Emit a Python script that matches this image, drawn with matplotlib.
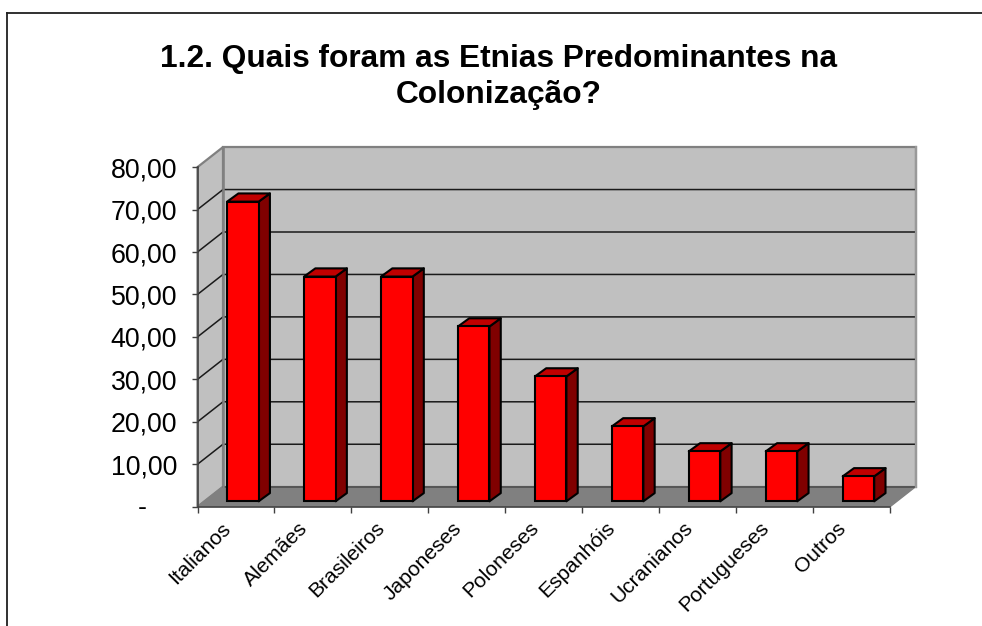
import matplotlib
matplotlib.use("Agg")
import matplotlib.pyplot as plt
from matplotlib.patches import Polygon
from matplotlib.lines import Line2D
from matplotlib.transforms import ScaledTranslation

plt.rcParams['font.family'] = ['Liberation Sans', 'DejaVu Sans']

title = "1.2. Quais foram as Etnias Predominantes na\nColonização?"
categories = ["Italianos", "Alemães", "Brasileiros", "Japoneses", "Poloneses",
              "Espanhóis", "Ucranianos", "Portugueses", "Outros"]
values = [70.59, 52.94, 52.94, 41.18, 29.41, 17.65, 11.76, 11.76, 5.88]
y_ticks = [0, 10, 20, 30, 40, 50, 60, 70, 80]
y_labels = ["-", "10,00", "20,00", "30,00", "40,00", "50,00", "60,00", "70,00", "80,00"]

W, H = 982, 626
fig = plt.figure(figsize=(W / 100, H / 100), dpi=100)
fig.patch.set_facecolor("white")

# pixel frame of the front plane plus depth
X0, Y0 = 197.5, 506.7
PX_CAT, PX_UNIT = 76.95, 4.245
DX_PX, DY_PX = 25.5, 20.0
n = len(categories)
dx = DX_PX / PX_CAT
dy = DY_PX / PX_UNIT
ax_w = PX_CAT * n + DX_PX
ax_h = PX_UNIT * 80 + DY_PX
ax = fig.add_axes([X0 / W, 1 - Y0 / H, ax_w / W, ax_h / H])
ax.set_xlim(-0.5, n - 0.5 + dx)
ax.set_ylim(0, 80 + dy)
ax.patch.set_alpha(0)
L, R = -0.5, n - 0.5

# walls and floor
wall = "#C0C0C0"
ax.add_patch(Polygon([(L + dx, dy), (R + dx, dy), (R + dx, 80 + dy), (L + dx, 80 + dy)],
                     fc=wall, ec="#808080", lw=1.6, zorder=1, clip_on=False))
ax.add_patch(Polygon([(L, 0), (L + dx, dy), (L + dx, 80 + dy), (L, 80)],
                     fc=wall, ec="#808080", lw=1.6, zorder=1, clip_on=False))
ax.add_patch(Polygon([(L, 0), (R, 0), (R + dx, dy), (L + dx, dy)],
                     fc="#808080", ec="#808080", lw=1.0, zorder=1, clip_on=False))

# gridlines
for t in y_ticks:
    if t == 0:
        ax.plot([L + dx, R + dx], [dy, dy], color="#555555", lw=1.4, zorder=2)
        continue
    if t == 80:
        continue
    ax.plot([L, L + dx, R + dx], [t, t + dy, t + dy], color="#1a1a1a", lw=1.1, zorder=2)
ax.plot([L + dx, L + dx], [dy, 80 + dy], color="#808080", lw=1.8, zorder=2)
ax.plot([R + dx, R + dx], [dy, 80 + dy], color="#999999", lw=1.6, zorder=2, clip_on=False)

# bars
frac = 0.27
bar_w = 31.5 / PX_CAT
d0x, d0y = frac * dx, frac * dy
bdx, bdy = 11.3 / PX_CAT, 8.2 / PX_UNIT
edge = dict(ec="black", lw=1.5, joinstyle="round")
centers = [i + d0x for i in range(n)]
ax.bar(centers, values, width=bar_w, bottom=d0y, color="#FF0000", edgecolor="black",
       linewidth=1.5, zorder=5)
for c, v in zip(centers, values):
    xl, xr = c - bar_w / 2, c + bar_w / 2
    yb, yt = d0y, d0y + v
    ax.add_patch(Polygon([(xr, yb), (xr + bdx, yb + bdy), (xr + bdx, yt + bdy), (xr, yt)],
                         fc="#800000", zorder=4, **edge))
    ax.add_patch(Polygon([(xl, yt), (xr, yt), (xr + bdx, yt + bdy), (xl + bdx, yt + bdy)],
                         fc="#C00000", zorder=4, **edge))

# axes lines and ticks
for s in ["top", "right"]:
    ax.spines[s].set_visible(False)
ax.spines["left"].set_bounds(0, 80)
ax.spines["bottom"].set_bounds(L, R)
for s in ["left", "bottom"]:
    ax.spines[s].set_color("#404040")
    ax.spines[s].set_linewidth(1.1)
    ax.spines[s].set_zorder(6)
ax.set_yticks(y_ticks)
ax.set_yticklabels([""] + y_labels[1:], fontsize=19.3, color="black")
ax.tick_params(axis="y", length=4.5, width=1.0, color="#404040", pad=10.2)
ax.annotate(y_labels[0], xy=(0, 0), xycoords=("axes fraction", "data"),
            xytext=(-55 * 72 / 100, -1 * 72 / 100), textcoords="offset points",
            fontsize=19.3, ha="center", va="center")
ax.set_xticks([i - 0.5 for i in range(n + 1)])
ax.set_xticklabels([])
ax.tick_params(axis="x", which="major", length=4.0, width=1.0, color="#404040")
ax.set_xticks(range(n), minor=True)
ax.set_xticklabels(categories, minor=True, fontsize=15.1, rotation=45, ha="right",
                   rotation_mode="anchor")
ax.tick_params(axis="x", which="minor", length=0, pad=8.5)
shift = ScaledTranslation(-15 / 100, 0, fig.dpi_scale_trans)
for lab in ax.get_xticklabels(minor=True):
    lab.set_transform(lab.get_transform() + shift)

fig.text(499 / W, 1 - 77 / H, title, fontsize=22.8, fontweight="bold", ha="center",
         va="center", linespacing=1.27)

# chart frame
fx0, fy = 7.3, 12.7
fig.add_artist(Line2D([fx0 / W, 1], [1 - fy / H] * 2, color="#202020", lw=1.3))
fig.add_artist(Line2D([fx0 / W, fx0 / W], [0, 1 - fy / H], color="#202020", lw=1.3))

fig.savefig("out.png", dpi=100)
